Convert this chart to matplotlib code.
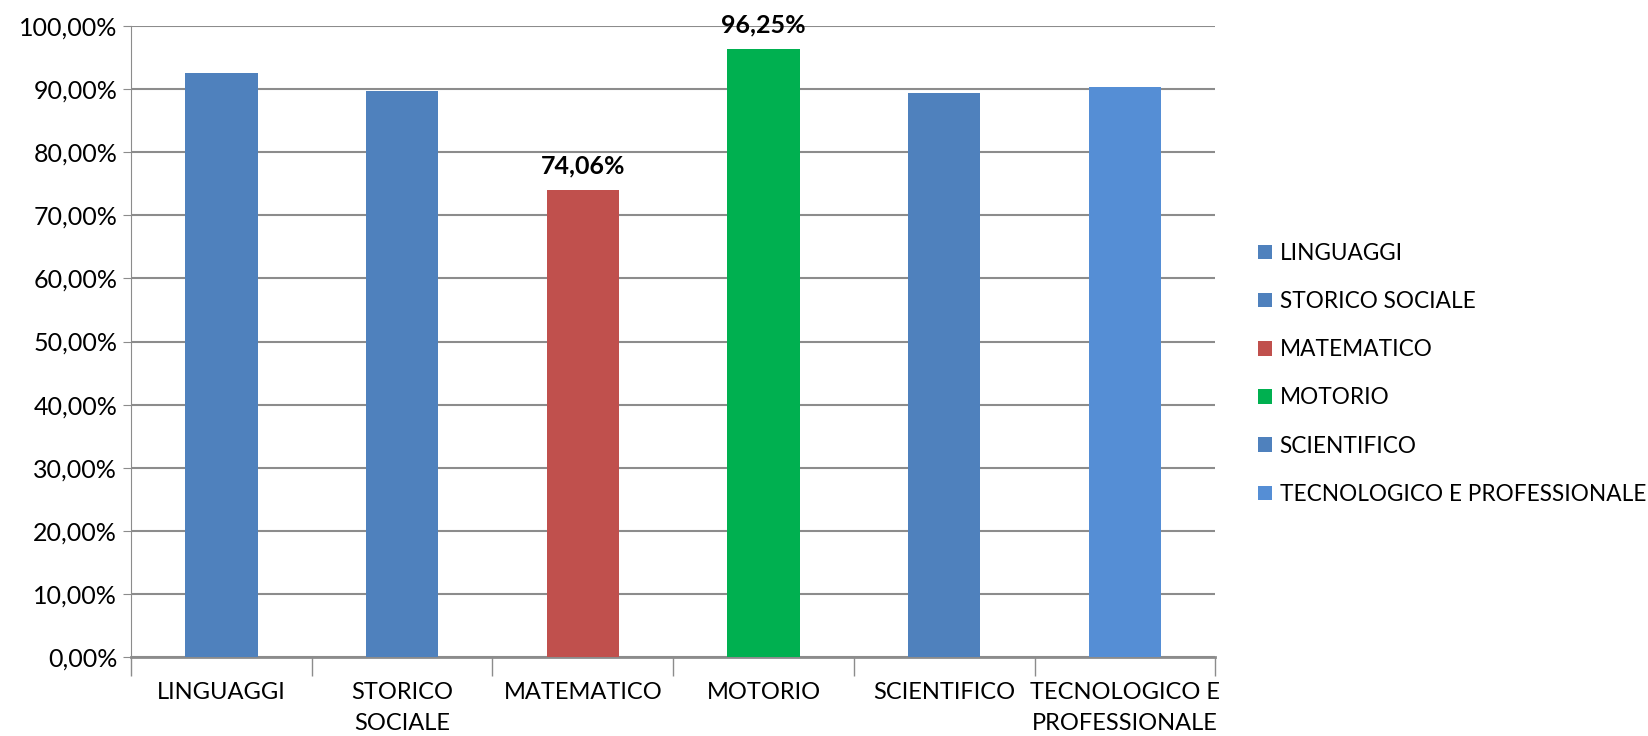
import numpy as np
import matplotlib
matplotlib.use("Agg")
from matplotlib import pyplot as plt
from matplotlib.ticker import FuncFormatter, MultipleLocator

# Dati
categorie = ["LINGUAGGI", "STORICO SOCIALE", "MATEMATICO", "MOTORIO",
             "SCIENTIFICO", "TECNOLOGICO E PROFESSIONALE"]
etichette_asse = ["LINGUAGGI", "STORICO\nSOCIALE", "MATEMATICO", "MOTORIO",
                  "SCIENTIFICO", "TECNOLOGICO E\nPROFESSIONALE"]
valori = [92.5, 89.7, 74.06, 96.25, 89.3, 90.3]
colori = ["#4F81BD", "#4F81BD", "#C0504D", "#00B050", "#4F81BD", "#558ED5"]
con_etichetta = [False, False, True, True, False, False]

plt.rcParams['font.family'] = ['Lato', 'DejaVu Sans']

fig = plt.figure(figsize=(16.48, 7.36), dpi=100)
ax = fig.add_axes([0.0795, 0.107, 0.658, 0.858])

x = np.arange(len(categorie))
barre = ax.bar(x, valori, width=0.4, color=colori, label=categorie, zorder=3)

# Etichette solo su alcune barre
for b, v, mostra in zip(barre, valori, con_etichetta):
    if mostra:
        ax.text(b.get_x() + b.get_width() / 2, v + 2.0,
                f"{v:.2f}%".replace(".", ","), ha="center", va="bottom",
                fontsize=18, fontweight="bold")

ax.set_xlim(-0.5, len(categorie) - 0.5)
ax.set_ylim(0, 100)
ax.yaxis.set_major_locator(MultipleLocator(10))
ax.yaxis.set_major_formatter(FuncFormatter(lambda v, p: f"{v:.2f}%".replace(".", ",")))
ax.grid(axis="y", color="#8c8c8c", linewidth=1.5, zorder=0)

ax.set_xticks(np.arange(len(categorie) + 1) - 0.5, minor=False)
ax.set_xticklabels([])
ax.set_xticks(x, minor=True)
ax.set_xticklabels(etichette_asse, minor=True, fontsize=17, linespacing=1.55, va="top")
ax.tick_params(axis="x", which="major", length=14, color="#8c8c8c", width=1)
ax.tick_params(axis="x", which="minor", length=0, pad=18)
ax.tick_params(axis="y", labelsize=18, length=6, color="#8c8c8c", pad=4)

for lato in ["top", "right"]:
    ax.spines[lato].set_visible(False)
ax.spines["left"].set_color("#8c8c8c")
ax.spines["bottom"].set_color("#8c8c8c")
ax.spines["bottom"].set_linewidth(2)

fig.legend(handles=barre, labels=categorie, loc="center left",
           bbox_to_anchor=(0.751, 0.492), frameon=False, fontsize=16.3,
           handlelength=0.6, handleheight=0.6, handletextpad=0.35,
           labelspacing=1.2)

fig.savefig("out.png", dpi=100)
